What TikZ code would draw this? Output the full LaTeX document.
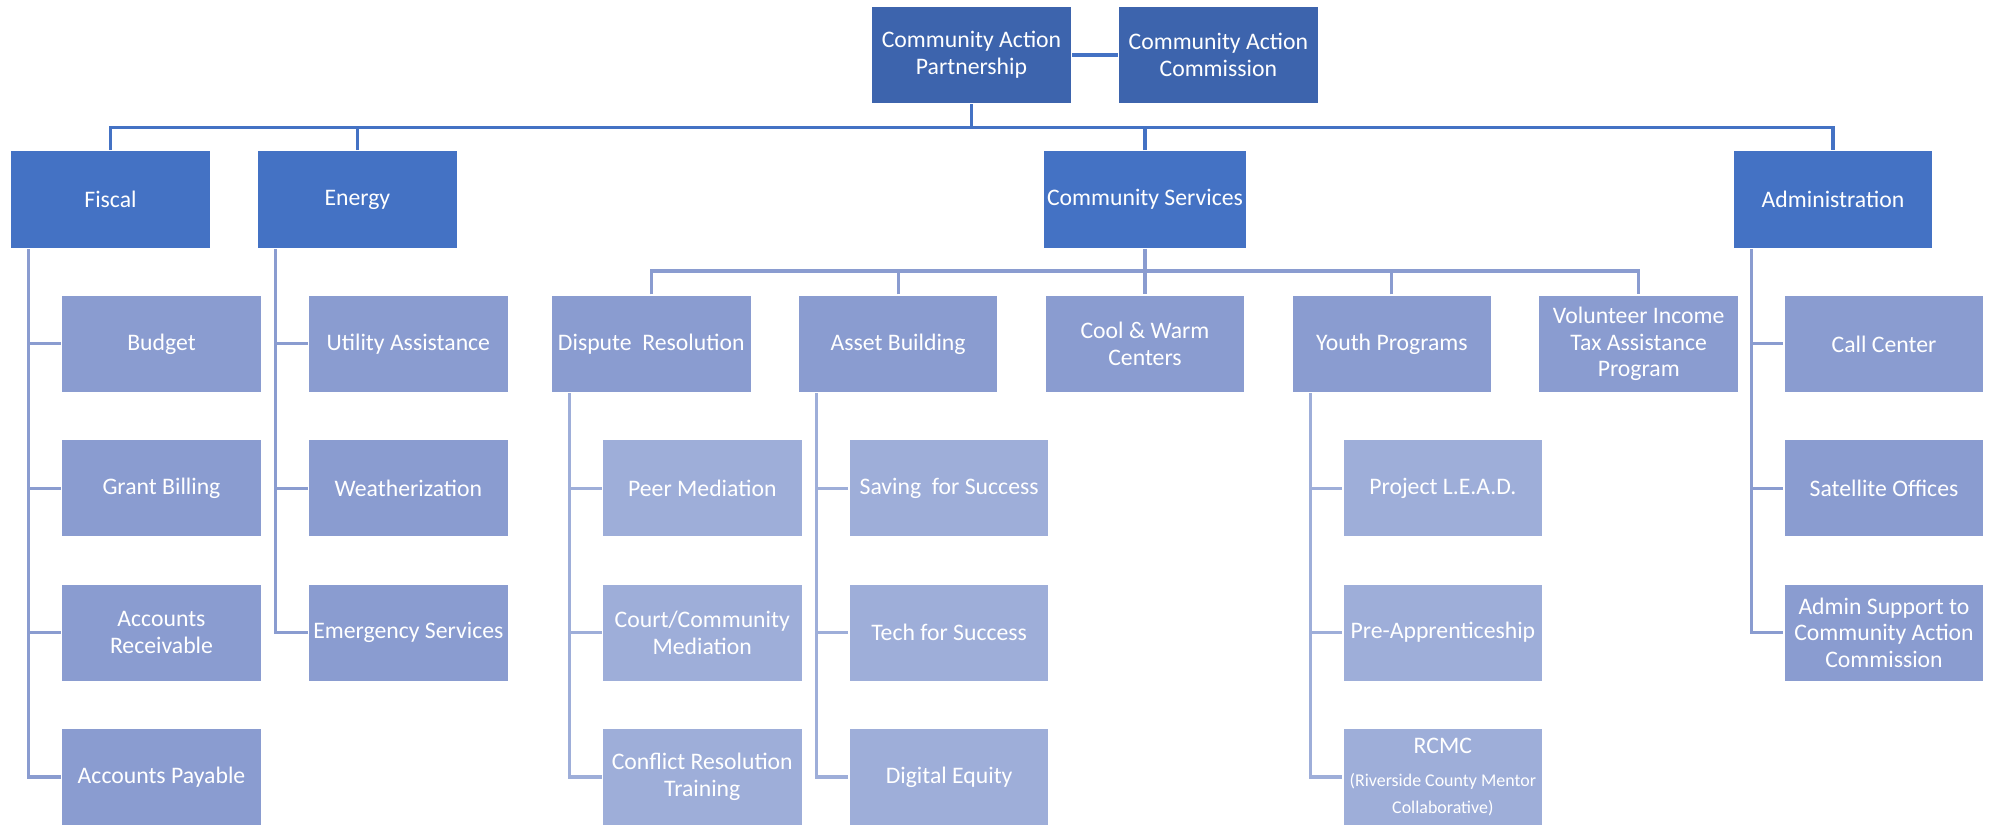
\documentclass[tikz,border=0pt]{standalone}
\usepackage{fontspec}
\setmainfont{Carlito}
\usetikzlibrary{positioning}

\definecolor{topblue}{HTML}{3D64AD}
\definecolor{mainblue}{HTML}{4472C4}
\definecolor{midblue}{HTML}{8A9CD0}
\definecolor{paleblue}{HTML}{9EAED9}

\begin{document}
\begin{tikzpicture}[
        x=0.02cm, y=-0.02cm,              % one unit = one pixel of the chart
        node distance=0.91cm,
        every node/.style={
            rectangle,
            draw=white,
            line width=0.8pt,
            minimum width=4cm,
            minimum height=1.95cm,
            inner sep=2pt,
            align=center,
            text=white,
            font=\fontsize{13.5}{15.2}\selectfont
        },
        head/.style={fill=topblue},
        unit/.style={fill=mainblue},
        prog/.style={fill=midblue},
        task/.style={fill=paleblue},
        link/.style={draw=#1, line width=1.8pt},
        link/.default=mainblue
    ]
    \useasboundingbox (0,0) rectangle (1995,825);

    % top
    \node[head] (cap) at (971.5,55) {Community Action\\Partnership};
    \node[head, right=of cap] (cac) {Community Action\\Commission};

    % divisions
    \node[unit] (fiscal) at (110.5,199.5) {Fiscal};
    \node[unit, right=of fiscal] (energy) {Energy};
    \node[unit] (commsvc) at (1145,199.5) {Community Services};
    \node[unit] (admin) at (1833,199.5) {Administration};

    % community services programs
    \node[prog, below=of commsvc] (coolwarm) {Cool \& Warm\\Centers};
    \node[prog, left=of coolwarm] (asset) {Asset Building};
    \node[prog, left=of asset] (dispute) {Dispute~~Resolution};
    \node[prog, right=of coolwarm] (youth) {Youth Programs};
    \node[prog, right=of youth] (vita) {Volunteer Income\\Tax Assistance\\Program};

    % fiscal
    \node[prog, below=of fiscal.south west, anchor=north west, xshift=1.02cm] (budget) {Budget};
    \node[prog, below=of budget] (grant) {Grant Billing};
    \node[prog, below=of grant] (receivable) {Accounts\\Receivable};
    \node[prog, below=of receivable] (payable) {Accounts Payable};

    % energy
    \node[prog, below=of energy.south west, anchor=north west, xshift=1.02cm] (utility) {Utility Assistance};
    \node[prog, below=of utility] (weather) {Weatherization};
    \node[prog, below=of weather] (emergency) {Emergency Services};

    % administration
    \node[prog, below=of admin.south west, anchor=north west, xshift=1.02cm] (callctr) {Call Center};
    \node[prog, below=of callctr] (satellite) {Satellite Offices};
    \node[prog, below=of satellite] (adminsup) {Admin Support to\\Community Action\\Commission};

    % dispute resolution
    \node[task, below=of dispute.south west, anchor=north west, xshift=1.02cm] (peer) {Peer Mediation};
    \node[task, below=of peer] (court) {Court/Community\\Mediation};
    \node[task, below=of court] (conflict) {Conflict Resolution\\Training};

    % asset building
    \node[task, below=of asset.south west, anchor=north west, xshift=1.02cm] (saving) {Saving~~for Success};
    \node[task, below=of saving] (tech) {Tech for Success};
    \node[task, below=of tech] (digital) {Digital Equity};

    % youth programs
    \node[task, below=of youth.south west, anchor=north west, xshift=1.02cm] (lead) {Project L.E.A.D.};
    \node[task, below=of lead] (preapp) {Pre-Apprenticeship};
    \node[task, below=of preapp] (rcmc) {RCMC\\[4pt]
        {\fontsize{10.2}{12.5}\selectfont (Riverside County Mentor}\\
        {\fontsize{10.2}{12.5}\selectfont Collaborative)}};

    % lines
    \draw[link] (cap) -- (cac);
    \draw[link] (cap.south) -- ++(0,-0.46cm) coordinate (topbus);
    \draw[link] (fiscal.north) |- (topbus) -| (admin.north);
    \draw[link] (energy.north) -- (energy.north |- topbus);
    \draw[link] (commsvc.north) -- (commsvc.north |- topbus);

    \draw[link=midblue] (commsvc.south) -- ++(0,-0.44cm) coordinate (svcbus);
    \draw[link=midblue] (dispute.north) |- (svcbus) -| (vita.north);
    \draw[link=midblue] (commsvc.south) -- (coolwarm.north);
    \foreach \p in {asset,youth}
        \draw[link=midblue] (\p.north) -- (\p.north |- svcbus);

    % side branches
    \foreach \parent/\kids/\last/\col in {
            fiscal/{budget,grant,receivable}/payable/midblue,
            energy/{utility,weather}/emergency/midblue,
            admin/{callctr,satellite}/adminsup/midblue,
            dispute/{peer,court}/conflict/paleblue,
            asset/{saving,tech}/digital/paleblue,
            youth/{lead,preapp}/rcmc/paleblue} {
        \coordinate (spine) at ([xshift=0.38cm]\parent.south west);
        \draw[link=\col] (spine) |- (\last.west);
        \foreach \c in \kids
            \draw[link=\col] (spine |- \c.west) -- (\c.west);
    }
\end{tikzpicture}
\end{document}
